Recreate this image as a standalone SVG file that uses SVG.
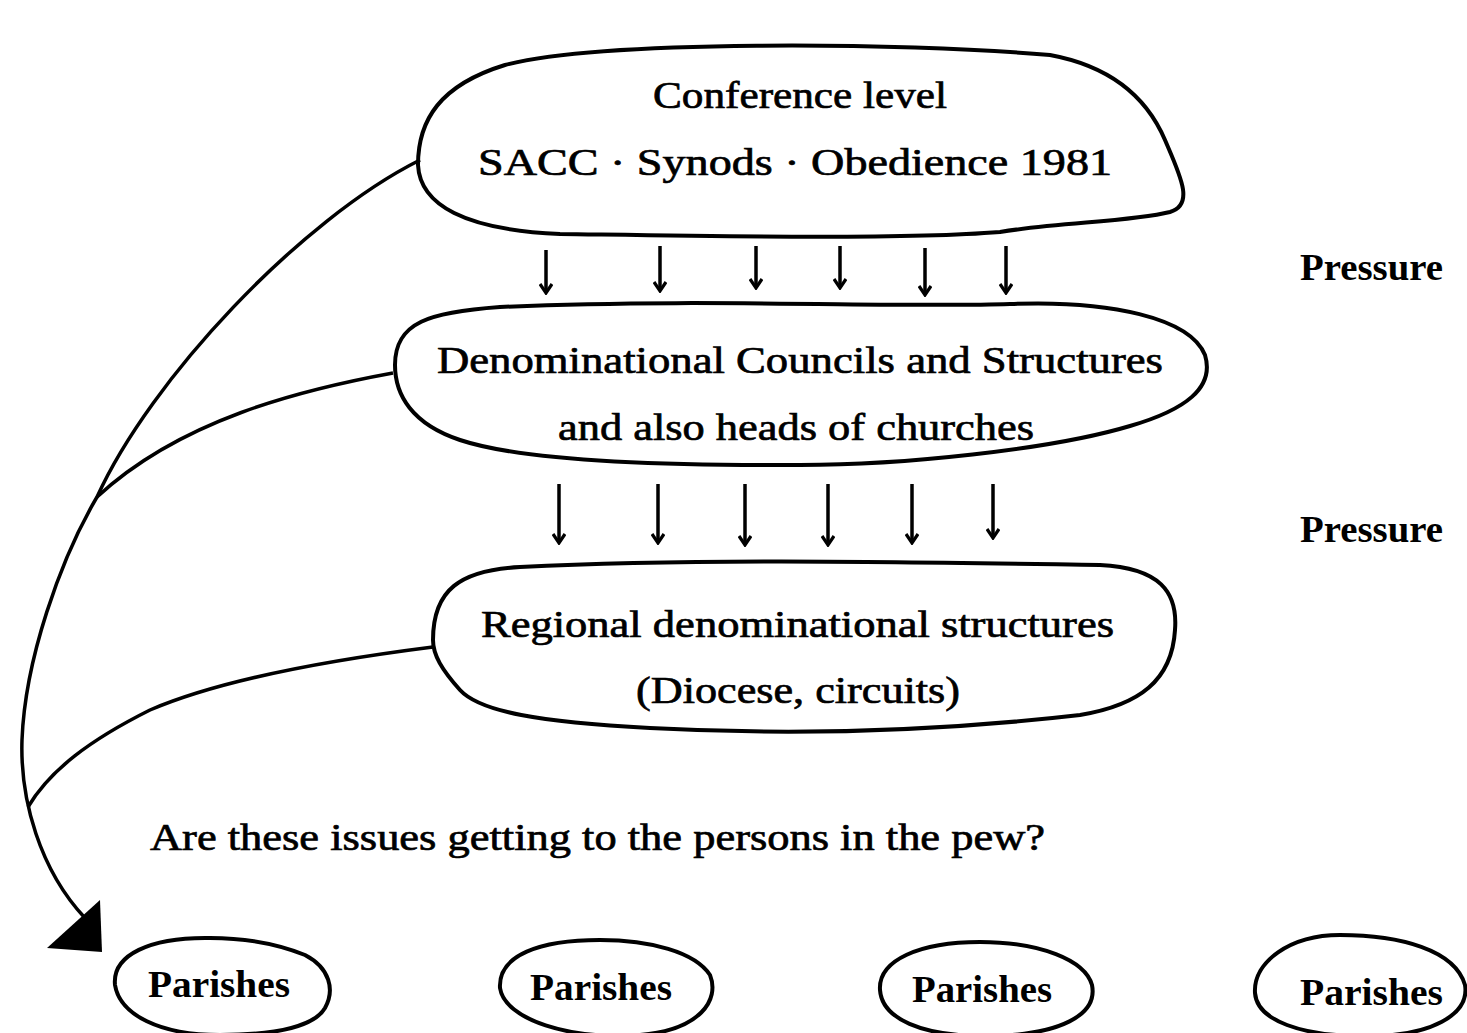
<svg xmlns="http://www.w3.org/2000/svg" width="1467" height="1033" viewBox="0 0 1467 1033">
<defs>
<marker id="ah" markerWidth="14" markerHeight="14" refX="12" refY="7" orient="auto" markerUnits="userSpaceOnUse" viewBox="0 0 14 14">
<path d="M3,1 L12,7 L3,13" fill="none" stroke="#000" stroke-width="3.2"/>
</marker>
</defs>
<style>
.blob{fill:none;stroke:#000;stroke-width:4;stroke-linejoin:round}
.con{fill:none;stroke:#000;stroke-width:3.5}
.arr{stroke:#000;stroke-width:3.5;marker-end:url(#ah)}
text{font-family:"Liberation Serif","Times New Roman",serif;fill:#000;font-size:38px;stroke:#000;stroke-width:0.7}
.b{font-weight:bold;stroke-width:0}
.m{text-anchor:middle}
</style>
<rect width="1467" height="1033" fill="#fff"/>
<g id="connectors">
<path class="con" d="M420,160 C300,220 150,380 97,497 C60,560 25,660 22,740 C20,800 40,870 85,918"/>
<path class="con" d="M393,373 C300,390 180,420 97,497"/>
<path class="con" d="M433,647 C330,660 220,680 150,710 C90,740 50,770 28,807"/>
<polygon points="100,900 47,948 102,952" fill="#000"/>
<line class="arr" x1="546" y1="250" x2="546" y2="293"/>
<line class="arr" x1="660" y1="246" x2="660" y2="291"/>
<line class="arr" x1="756" y1="246" x2="756" y2="288"/>
<line class="arr" x1="840" y1="246" x2="840" y2="288"/>
<line class="arr" x1="925" y1="248" x2="925" y2="295"/>
<line class="arr" x1="1006" y1="246" x2="1006" y2="293"/>
<line class="arr" x1="559" y1="484" x2="559" y2="543"/>
<line class="arr" x1="658" y1="484" x2="658" y2="543"/>
<line class="arr" x1="745" y1="484" x2="745" y2="545"/>
<line class="arr" x1="828" y1="484" x2="828" y2="545"/>
<line class="arr" x1="912" y1="484" x2="912" y2="543"/>
<line class="arr" x1="993" y1="484" x2="993" y2="538"/>
</g>
<g id="node-conference">
<path class="blob" d="M418,165 C418,120 440,85 505,65 C600,40 900,42 1050,55 C1120,68 1150,105 1165,140 C1180,175 1195,205 1170,212 C1130,222 1060,222 1000,232 C900,240 700,236 560,234 C465,230 420,205 418,165 Z"/>
<text class="m" x="800" y="108" textLength="294" lengthAdjust="spacingAndGlyphs">Conference level</text>
<text x="478" y="175" textLength="634" lengthAdjust="spacingAndGlyphs">SACC · Synods · Obedience 1981</text>
</g>
<g id="node-denominational">
<path class="blob" d="M395,365 C395,322 430,312 500,307 C700,298 900,308 1010,304 C1110,300 1190,318 1205,355 C1215,388 1185,410 1130,426 C1050,450 900,465 800,465 C650,466 520,460 460,440 C412,424 395,395 395,365 Z"/>
<text x="437" y="373" textLength="726" lengthAdjust="spacingAndGlyphs">Denominational Councils and Structures</text>
<text x="558" y="440" textLength="476" lengthAdjust="spacingAndGlyphs">and also heads of churches</text>
</g>
<g id="node-regional">
<path class="blob" d="M433,640 C433,590 460,570 520,567 C700,558 900,562 1100,565 C1160,568 1178,592 1175,630 C1172,680 1140,705 1080,715 C950,730 800,736 650,728 C540,722 480,712 460,690 C442,670 433,655 433,640 Z"/>
<text x="481" y="637" textLength="633" lengthAdjust="spacingAndGlyphs">Regional denominational structures</text>
<text x="636" y="703" textLength="324" lengthAdjust="spacingAndGlyphs">(Diocese, circuits)</text>
</g>
<g id="label-pressure-1"><text class="b" x="1300" y="280" textLength="143" lengthAdjust="spacingAndGlyphs">Pressure</text></g>
<g id="label-pressure-2"><text class="b" x="1300" y="542" textLength="143" lengthAdjust="spacingAndGlyphs">Pressure</text></g>
<g id="label-question"><text x="150" y="850" textLength="895" lengthAdjust="spacingAndGlyphs">Are these issues getting to the persons in the pew?</text></g>
<g id="parish-1">
<path class="blob" d="M115,985 C112,955 150,937 210,938 C250,938 280,945 305,955 C330,968 335,990 325,1008 C315,1025 280,1035 220,1035 C160,1035 120,1015 115,985 Z"/>
<text class="b" x="148" y="997" textLength="142" lengthAdjust="spacingAndGlyphs">Parishes</text>
</g>
<g id="parish-2">
<path class="blob" d="M500,988 C498,955 540,940 600,940 C650,940 695,952 710,975 C720,1000 700,1030 640,1035 C570,1040 505,1020 500,988 Z"/>
<text class="b" x="530" y="1000" textLength="142" lengthAdjust="spacingAndGlyphs">Parishes</text>
</g>
<g id="parish-3">
<path class="blob" d="M880,990 C878,960 920,942 980,942 C1040,942 1085,960 1092,985 C1098,1015 1060,1035 990,1036 C920,1037 882,1018 880,990 Z"/>
<text class="b" x="912" y="1002" textLength="140" lengthAdjust="spacingAndGlyphs">Parishes</text>
</g>
<g id="parish-4">
<path class="blob" d="M1255,993 C1253,962 1290,935 1340,935 C1400,935 1455,950 1465,985 C1470,1015 1430,1036 1370,1036 C1300,1037 1257,1020 1255,993 Z"/>
<text class="b" x="1300" y="1005" textLength="143" lengthAdjust="spacingAndGlyphs">Parishes</text>
</g>
</svg>
